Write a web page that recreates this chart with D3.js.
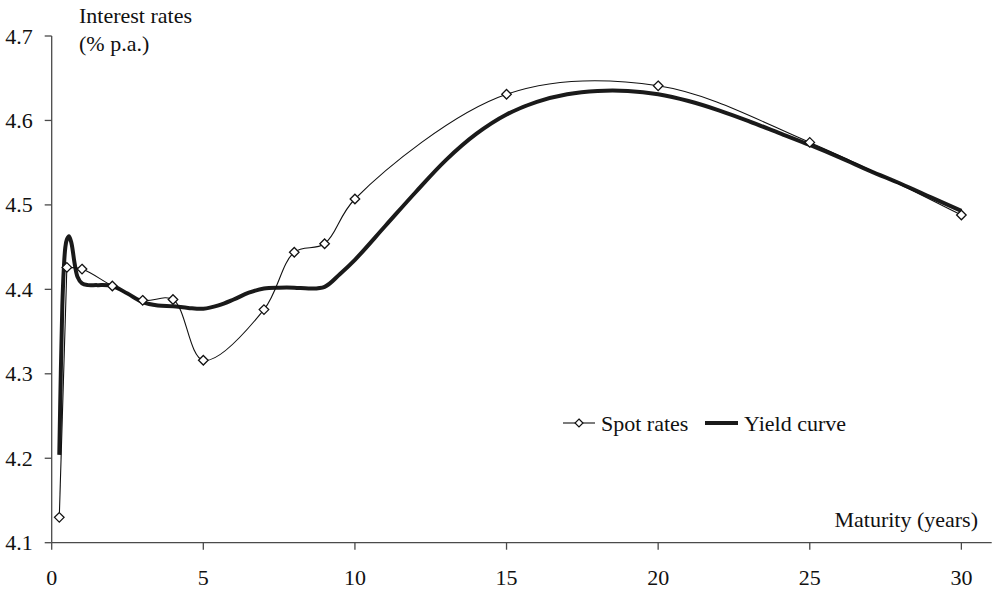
<!DOCTYPE html>
<html>
<head>
<meta charset="utf-8">
<script src="https://cdn.jsdelivr.net/npm/d3@7"></script>
<style>
  html, body { margin: 0; padding: 0; background: #fff; }
  text { font-family: "Liberation Serif", "Times New Roman", serif; fill: #111; }
</style>
</head>
<body>
<svg id="chart" width="995" height="590"></svg>
<script>
// ---- data ----
const spotMaturities = [0.25, 0.5, 1, 2, 3, 4, 5, 7, 8, 9, 10, 15, 20, 25, 30];
const spotRates      = [4.130, 4.426, 4.424, 4.404, 4.387, 4.388, 4.316, 4.376, 4.444, 4.454, 4.507, 4.631, 4.641, 4.574, 4.488];

const curveMaturities = [0.25, 0.3, 0.35, 0.4, 0.45, 0.5, 0.57, 0.65, 0.75, 0.85, 1.0, 1.2, 1.5, 2, 2.5, 3, 3.5, 4, 4.5, 5, 5.5, 6, 6.5, 7, 7.5, 8, 8.5, 9, 9.5, 10, 11, 12, 13, 14, 15, 16, 17, 18, 19, 20, 21, 22, 23, 24, 25, 26, 27, 28, 29, 30];
const curveRates      = [4.204, 4.300, 4.380, 4.425, 4.450, 4.459, 4.463, 4.455, 4.432, 4.415, 4.407, 4.405, 4.405, 4.404, 4.395, 4.385, 4.381, 4.380, 4.378, 4.377, 4.381, 4.388, 4.396, 4.401, 4.402, 4.402, 4.401, 4.403, 4.418, 4.435, 4.475, 4.515, 4.553, 4.584, 4.607, 4.622, 4.631, 4.635, 4.635, 4.631, 4.623, 4.612, 4.599, 4.585, 4.571, 4.556, 4.540, 4.525, 4.509, 4.493];

const xTicks = [0, 5, 10, 15, 20, 25, 30];
const yTicks = [4.1, 4.2, 4.3, 4.4, 4.5, 4.6, 4.7];
const seriesNames = ["Spot rates", "Yield curve"];

// ---- layout ----
const svg = d3.select("#chart");
const x = d3.scaleLinear().domain([0, 31]).range([51.7, 991.7]);
const y = d3.scaleLinear().domain([4.1, 4.7]).range([542.7, 36]);
const axisColor = "#4a4a4a";
const fontSize = 22;

// y axis
const yAxis = svg.append("g");
yAxis.append("line")
  .attr("x1", x(0)).attr("x2", x(0))
  .attr("y1", y(4.7)).attr("y2", y(4.1))
  .attr("stroke", axisColor).attr("stroke-width", 1.3);
yTicks.forEach(v => {
  yAxis.append("line")
    .attr("x1", x(0) - 7).attr("x2", x(0))
    .attr("y1", y(v)).attr("y2", y(v))
    .attr("stroke", axisColor).attr("stroke-width", 1.3);
  yAxis.append("text")
    .attr("x", x(0) - 19).attr("y", y(v))
    .attr("text-anchor", "end").attr("dominant-baseline", "central")
    .attr("font-size", fontSize)
    .text(d3.format(".1f")(v));
});

// x axis
const xAxis = svg.append("g");
xAxis.append("line")
  .attr("x1", x(0)).attr("x2", x(31))
  .attr("y1", y(4.1)).attr("y2", y(4.1))
  .attr("stroke", axisColor).attr("stroke-width", 1.3);
xTicks.forEach(v => {
  xAxis.append("line")
    .attr("x1", x(v)).attr("x2", x(v))
    .attr("y1", y(4.1)).attr("y2", y(4.1) + 7)
    .attr("stroke", axisColor).attr("stroke-width", 1.3);
  xAxis.append("text")
    .attr("x", x(v)).attr("y", 585)
    .attr("text-anchor", "middle")
    .attr("font-size", fontSize)
    .text(v);
});

// axis titles
svg.append("text").attr("x", 79).attr("y", 23).attr("font-size", fontSize).text("Interest rates");
svg.append("text").attr("x", 79).attr("y", 51).attr("font-size", fontSize).text("(% p.a.)");
svg.append("text").attr("x", 978).attr("y", 527).attr("text-anchor", "end").attr("font-size", fontSize).text("Maturity (years)");

// yield curve
const curveData = curveMaturities.map((m, i) => [m, curveRates[i]]);
svg.append("path")
  .datum(curveData)
  .attr("fill", "none")
  .attr("stroke", "#1a1a1a")
  .attr("stroke-width", 4)
  .attr("stroke-linejoin", "round")
  .attr("d", d3.line().x(d => x(d[0])).y(d => y(d[1])).curve(d3.curveCatmullRom.alpha(0.5)));

// spot rates (first, very steep segment straight; the rest smoothed)
const spotData = spotMaturities.map((m, i) => [m, spotRates[i]]);
svg.append("path")
  .datum(spotData.slice(0, 2))
  .attr("fill", "none")
  .attr("stroke", "#111")
  .attr("stroke-width", 1.1)
  .attr("d", d3.line().x(d => x(d[0])).y(d => y(d[1])));
svg.append("path")
  .datum(spotData.slice(1))
  .attr("fill", "none")
  .attr("stroke", "#111")
  .attr("stroke-width", 1.1)
  .attr("d", d3.line().x(d => x(d[0])).y(d => y(d[1])).curve(d3.curveCatmullRom.alpha(0.5)));

const diamond = d3.symbol().type(d3.symbolDiamond2).size(58);
svg.append("g").selectAll("path")
  .data(spotData).join("path")
  .attr("transform", d => `translate(${x(d[0])},${y(d[1])})`)
  .attr("d", diamond)
  .attr("fill", "#fff")
  .attr("stroke", "#111")
  .attr("stroke-width", 1.3);

// legend
const lg = svg.append("g");
const ly = 423;
lg.append("line").attr("x1", 563).attr("x2", 595).attr("y1", ly).attr("y2", ly)
  .attr("stroke", "#111").attr("stroke-width", 1.1);
lg.append("path").attr("transform", `translate(579,${ly})`)
  .attr("d", d3.symbol().type(d3.symbolDiamond2).size(40))
  .attr("fill", "#fff").attr("stroke", "#111").attr("stroke-width", 1.2);
lg.append("text").attr("x", 601).attr("y", ly).attr("dominant-baseline", "central")
  .attr("font-size", fontSize).text(seriesNames[0]);
lg.append("line").attr("x1", 705).attr("x2", 738).attr("y1", ly).attr("y2", ly)
  .attr("stroke", "#1a1a1a").attr("stroke-width", 4);
lg.append("text").attr("x", 744).attr("y", ly).attr("dominant-baseline", "central")
  .attr("font-size", fontSize).text(seriesNames[1]);
</script>
</body>
</html>
